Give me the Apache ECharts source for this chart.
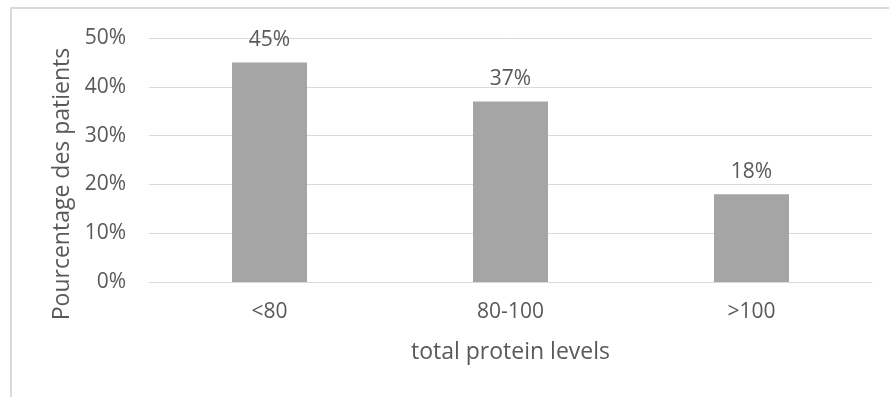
<!DOCTYPE html>
<html>
<head>
<meta charset="utf-8">
<script src="https://cdn.jsdelivr.net/npm/echarts@6/dist/echarts.min.js"></script>
<style>
  html, body { margin: 0; padding: 0; background: #fff; }
  #chart { width: 889px; height: 397px; }
</style>
</head>
<body>
<div id="chart"></div>
<script>
// total protein levels categories
const categories = ["<80", "80-100", ">100"];
const patientShare = [0.45, 0.37, 0.18];
const textColor = "#595959";
const fontFamily = "Open Sans";

const chart = echarts.init(document.getElementById("chart"));

chart.setOption({
  animation: false,
  textStyle: { fontFamily: fontFamily, color: textColor },
  graphic: [
    {
      type: "rect",
      shape: { x: 11, y: 8, width: 900, height: 420 },
      style: { fill: "none", stroke: "#d9d9d9", lineWidth: 2 },
      silent: true
    }
  ],
  grid: {
    left: 149,
    right: 17,
    top: 38,
    bottom: 115
  },
  xAxis: {
    type: "category",
    data: categories,
    name: "total protein levels",
    nameLocation: "middle",
    nameGap: 59,
    nameTextStyle: { fontSize: 23, color: textColor, fontFamily: fontFamily },
    axisTick: { show: false },
    axisLine: { lineStyle: { color: "#d9d9d9", width: 1 } },
    axisLabel: { fontSize: 21, color: textColor, margin: 20, fontFamily: fontFamily }
  },
  yAxis: {
    type: "value",
    min: 0,
    max: 0.5,
    interval: 0.1,
    name: "Pourcentage des patients",
    nameLocation: "middle",
    nameGap: 75,
    nameTextStyle: {
      fontSize: 23,
      color: textColor,
      fontFamily: fontFamily,
      padding: [0, 48, 0, 0] // Excel centres the title a bit lower
    },
    axisLine: { show: false },
    axisTick: { show: false },
    axisLabel: {
      fontSize: 21,
      color: textColor,
      margin: 23,
      fontFamily: fontFamily,
      formatter: function (v) {
        return Math.round(v * 100) + "%";
      }
    },
    splitLine: { lineStyle: { color: "#d9d9d9", width: 1 } }
  },
  series: [
    {
      type: "bar",
      data: patientShare,
      barWidth: 75,
      itemStyle: { color: "#a5a5a5" },
      label: {
        show: true,
        position: "top",
        distance: 12,
        fontSize: 21,
        color: textColor,
        fontFamily: fontFamily,
        formatter: function (p) {
          return Math.round(p.value * 100) + "%";
        }
      }
    }
  ]
});
</script>
</body>
</html>
